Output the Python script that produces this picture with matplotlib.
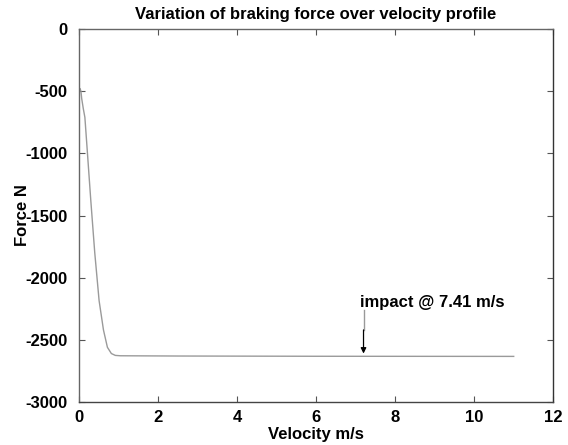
import numpy as np
import matplotlib.pyplot as plt

plt.rcParams['font.family'] = ['Liberation Sans', 'DejaVu Sans']
plt.rcParams['font.weight'] = 'bold'
plt.rcParams['axes.unicode_minus'] = False

# braking force curve
velocity = [0.03, 0.05, 0.07, 0.11, 0.15, 0.21, 0.30, 0.40, 0.51, 0.62, 0.72, 0.82, 0.92, 1.05, 2.5, 6.0, 11.0]
force = [-480, -500, -560, -640, -710, -976, -1380, -1800, -2185, -2420, -2560, -2610, -2625, -2628, -2630, -2632, -2633]

impact_v = 7.2
impact_label = 'impact @ 7.41 m/s'

fig = plt.figure(figsize=(5.68, 4.45), dpi=100)
ax = fig.add_axes([0.139, 0.0966, 0.835, 0.838])

ax.plot(velocity, force, color='#9a9a9a', lw=1.0)

# arrow: faint upper part, dark lower part with head
ax.plot([impact_v, impact_v], [-2260, -2420], color='#999999', lw=1.0)
ax.annotate('', xy=(impact_v, -2610), xytext=(impact_v, -2420),
            arrowprops=dict(arrowstyle='-|>', color='black', lw=0.9,
                            mutation_scale=8, shrinkA=0, shrinkB=0))
ax.text(impact_v - 0.08, -2200, impact_label, fontsize=12, fontweight='bold',
        ha='left', va='center')

ax.set_xlim(0, 12)
ax.set_ylim(-3000, 0)
ax.set_xticks(np.arange(0, 13, 2))
ax.set_yticks(np.arange(-3000, 1, 500))
ax.tick_params(direction='in', top=True, right=True, labelsize=12, length=4,
               color='#555555')
ax.tick_params(axis='y', pad=8)
ax.tick_params(axis='x', pad=6)
for lab in ax.get_xticklabels() + ax.get_yticklabels():
    lab.set_fontweight('bold')
for sp in ax.spines.values():
    sp.set_color('#666666')
    sp.set_linewidth(1.0)
ax.spines['right'].set_color('#333333')
ax.spines['bottom'].set_color('#444444')

ax.set_title('Variation of braking force over velocity profile', fontsize=12,
             fontweight='bold', pad=7)
ax.set_xlabel('Velocity m/s', fontsize=12, fontweight='bold', labelpad=1)
ax.set_ylabel('Force N', fontsize=12, fontweight='bold', labelpad=-3)

fig.savefig('out.png', dpi=100)
